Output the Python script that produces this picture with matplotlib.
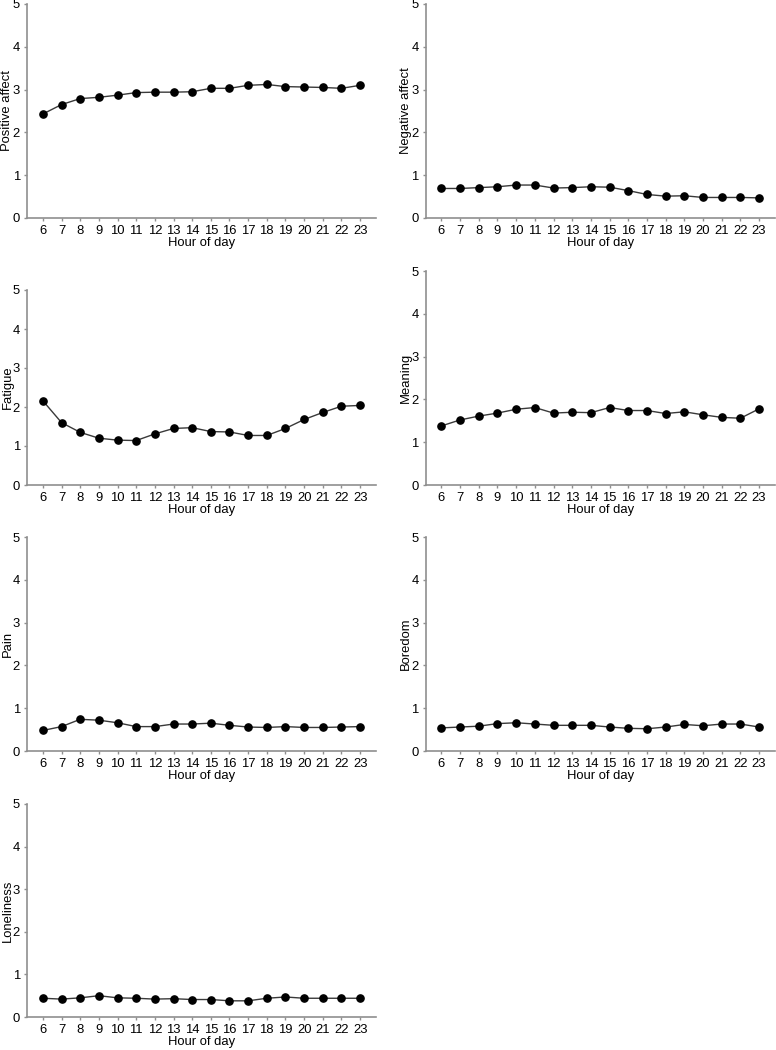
import matplotlib
matplotlib.use("Agg")
import matplotlib.pyplot as plt

plt.rcParams['font.family'] = ['Liberation Sans', 'DejaVu Sans']

hours = list(range(6, 24))
hour_labels = [str(h) for h in hours]
y_ticks = [0, 1, 2, 3, 4, 5]

positive_affect = [2.43, 2.65, 2.79, 2.82, 2.87, 2.93, 2.94, 2.94, 2.95, 3.03, 3.03, 3.10, 3.12, 3.07, 3.06, 3.05, 3.03, 3.10]
negative_affect = [0.69, 0.69, 0.71, 0.73, 0.77, 0.77, 0.70, 0.71, 0.73, 0.72, 0.64, 0.55, 0.51, 0.52, 0.48, 0.48, 0.48, 0.47]
fatigue = [2.16, 1.60, 1.35, 1.20, 1.15, 1.14, 1.31, 1.45, 1.47, 1.37, 1.36, 1.27, 1.27, 1.45, 1.68, 1.86, 2.02, 2.04]
meaning = [1.38, 1.52, 1.61, 1.68, 1.77, 1.81, 1.68, 1.70, 1.69, 1.81, 1.74, 1.74, 1.67, 1.71, 1.64, 1.58, 1.56, 1.78]
pain = [0.48, 0.57, 0.74, 0.72, 0.66, 0.57, 0.57, 0.63, 0.63, 0.65, 0.60, 0.56, 0.55, 0.57, 0.55, 0.55, 0.56, 0.57]
boredom = [0.54, 0.56, 0.58, 0.64, 0.66, 0.63, 0.60, 0.60, 0.60, 0.56, 0.53, 0.52, 0.56, 0.62, 0.59, 0.63, 0.63, 0.56]
loneliness = [0.44, 0.42, 0.45, 0.50, 0.45, 0.44, 0.42, 0.43, 0.41, 0.41, 0.38, 0.38, 0.44, 0.47, 0.44, 0.44, 0.44, 0.44]

W, H = 776, 1050
fig = plt.figure(figsize=(W / 100, H / 100), dpi=100)

# (series, ylabel, left, right, top, bottom) in pixels
panels = [
    (positive_affect, "Positive affect", 27, 376, 4, 218),
    (negative_affect, "Negative affect", 425.5, 775, 4, 218),
    (fatigue, "Fatigue", 27, 376, 290, 485),
    (meaning, "Meaning", 425.5, 775, 271, 485),
    (pain, "Pain", 27, 376, 537, 751),
    (boredom, "Boredom", 425.5, 775, 537, 751),
    (loneliness, "Loneliness", 27, 376, 804, 1017),
]

FS = 9.4
spine_col = "#8f8f8f"
for vals, lab, l, r, t, b in panels:
    ax = fig.add_axes([l / W, 1 - b / H, (r - l) / W, (b - t) / H])
    ax.plot(hours, vals, color="#3a3a3a", lw=1.0, marker="o", ms=5.2,
            mfc="black", mec="black", clip_on=False, zorder=3)
    ax.set_xlim(5.15, 23.85)
    ax.set_ylim(0, 5)
    ax.set_xticks(hours)
    ax.set_xticklabels(hour_labels)
    ax.set_yticks(y_ticks)
    for s in ["top", "right"]:
        ax.spines[s].set_visible(False)
    for s in ["left", "bottom"]:
        ax.spines[s].set_color(spine_col)
        ax.spines[s].set_linewidth(1.2)
    ax.tick_params(axis="both", colors=spine_col, length=2.5, width=1,
                   labelcolor="black", labelsize=FS, pad=2.5)
    ax.set_xlabel("Hour of day", fontsize=FS, labelpad=0)
    ax.set_ylabel(lab, fontsize=FS, va="center")
    ax.yaxis.set_label_coords(-19.5 / (r - l), 0.5)

fig.savefig("out.png", dpi=100)
